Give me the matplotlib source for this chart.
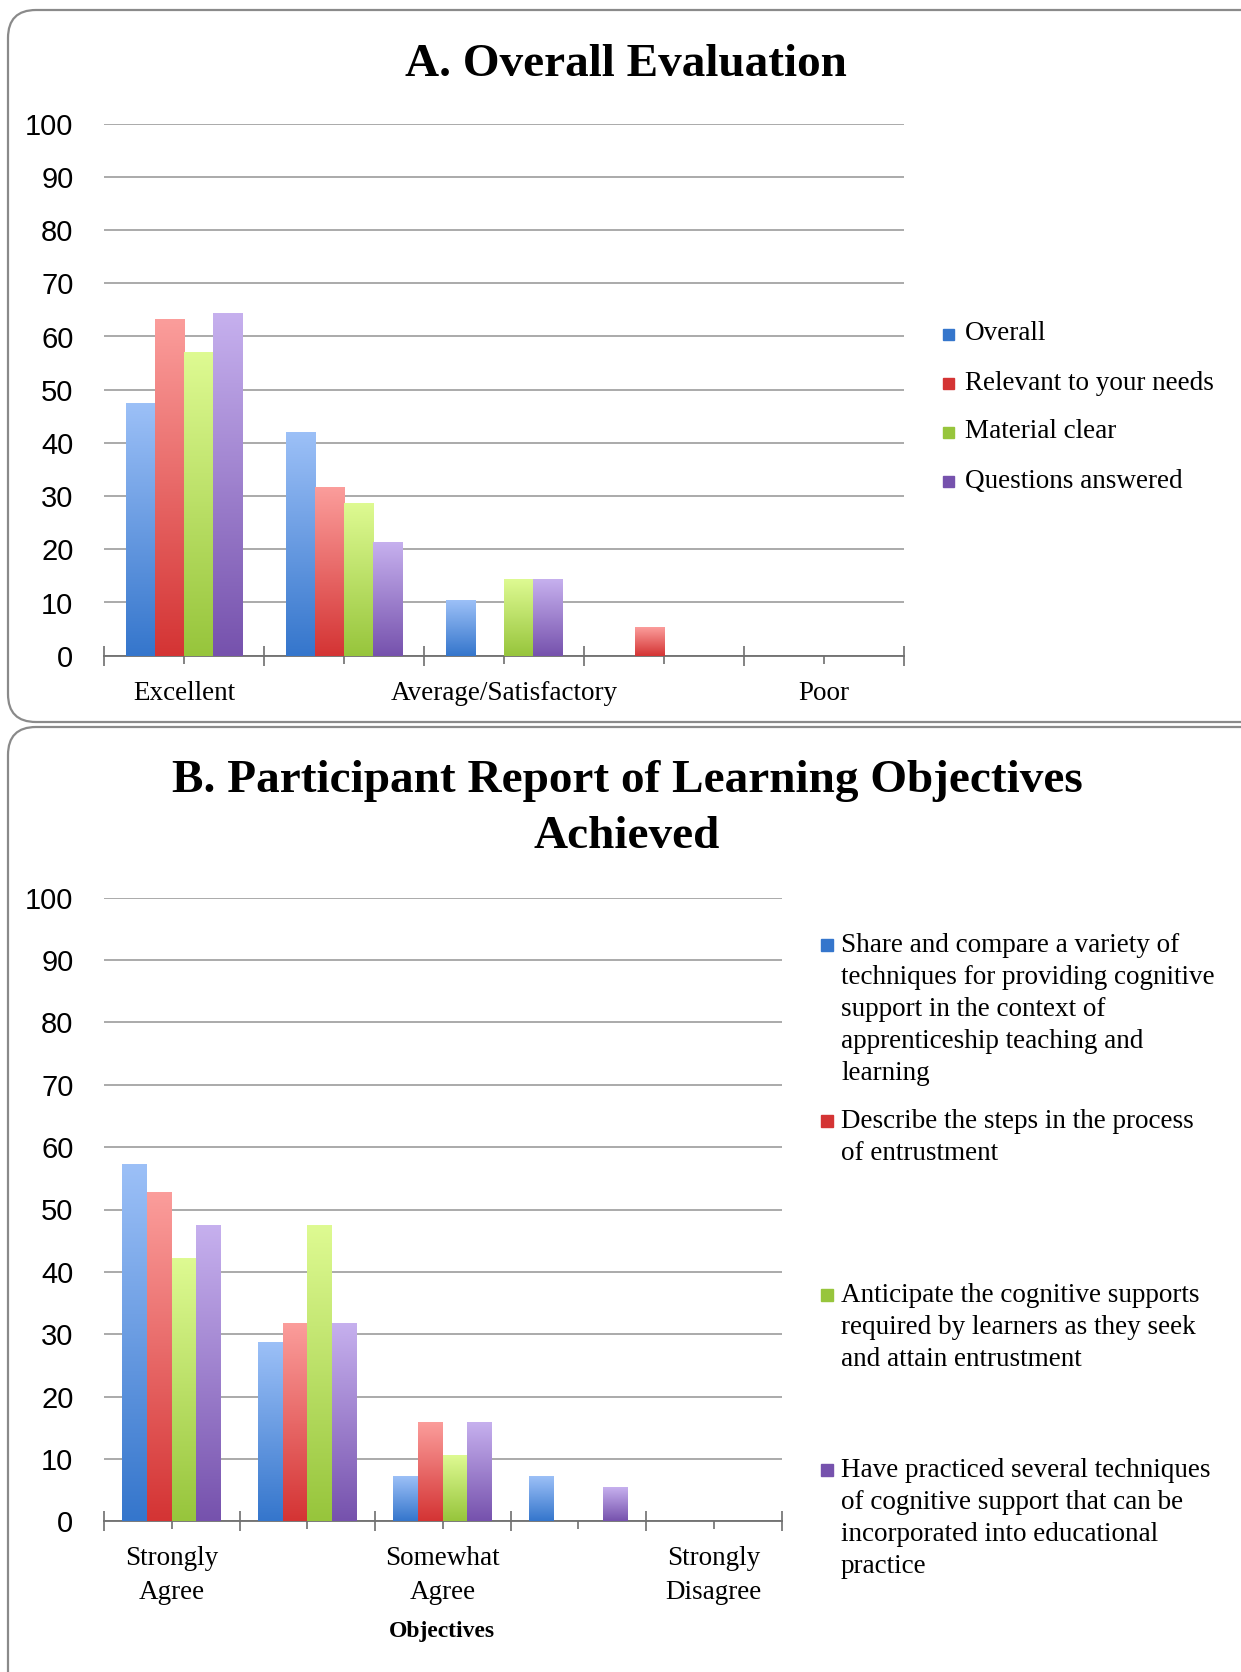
import numpy as np
import matplotlib
matplotlib.use("Agg")
import matplotlib.pyplot as plt
from matplotlib.colors import LinearSegmentedColormap
from matplotlib.patches import FancyBboxPatch, Rectangle
from matplotlib.transforms import IdentityTransform

W, H = 1241, 1672

# Panel A data (percent of respondents)
eval_cats = ['Excellent', '', 'Average/Satisfactory', '', 'Poor']
eval_names = ['Overall', 'Relevant to your needs', 'Material clear', 'Questions answered']
overall = [47.4, 42.1, 10.5, 0, 0]
relevant = [63.2, 31.6, 0, 5.3, 0]
material = [57.1, 28.6, 14.3, 0, 0]
questions = [64.3, 21.4, 14.3, 0, 0]

# Panel B data
obj_cats = ['Strongly\nAgree', '', 'Somewhat\nAgree', '', 'Strongly\nDisagree']
obj_names = ['Share and compare a variety of\ntechniques for providing cognitive\nsupport in the context of\napprenticeship teaching and\nlearning',
             'Describe the steps in the process\nof entrustment',
             'Anticipate the cognitive supports\nrequired by learners as they seek\nand attain entrustment',
             'Have practiced several techniques\nof cognitive support that can be\nincorporated into educational\npractice']
share = [57.1, 28.6, 7.1, 7.1, 0]
describe = [52.6, 31.6, 15.8, 0, 0]
anticipate = [42.1, 47.4, 10.5, 0, 0]
practiced = [47.4, 31.6, 15.8, 5.3, 0]

# (top, bottom) colours of the excel-style gradient
shades = [('#9cc0f7', '#3576cc'),
          ('#fb9d9b', '#d43434'),
          ('#defa92', '#97c53c'),
          ('#c6b0ee', '#7652ad')]

serif = 'Liberation Serif'
narrow = ['Liberation Sans Narrow', 'Liberation Sans']

fig = plt.figure(figsize=(W / 100, H / 100), dpi=100)

# rounded panel frames
for (top, bottom) in [(10, 722), (727, 1700)]:
    box = FancyBboxPatch((8, H - bottom), W + 40, bottom - top,
                         boxstyle='round,pad=0,rounding_size=28',
                         transform=IdentityTransform(), facecolor='none',
                         edgecolor='#8a8a8a', linewidth=1.6, zorder=-5)
    fig.add_artist(box)


def px_axes(left, top, right, bottom):
    return fig.add_axes([left / W, 1 - bottom / H, (right - left) / W, (bottom - top) / H])


def draw_panel(ax, cats, series):
    x = np.arange(len(cats))
    w = 0.73 / 4
    grad = np.linspace(0, 1, 128).reshape(-1, 1)
    for i, vals in enumerate(series):
        ctop, cbot = shades[i]
        cmap = LinearSegmentedColormap.from_list('g%d' % i, [cbot, ctop])
        bars = ax.bar(x + (i - 1.5) * w, vals, w, color=cbot, linewidth=0, zorder=3)
        for b in bars:
            if b.get_height() <= 0:
                b.set_visible(False)
                continue
            bx, by = b.get_xy()
            ax.imshow(grad, extent=(bx, bx + b.get_width(), by, by + b.get_height()),
                      origin='lower', cmap=cmap, aspect='auto', zorder=3.1,
                      interpolation='bilinear')
    ax.set_xlim(-0.5, len(cats) - 0.5)
    ax.set_ylim(0, 100)
    ax.set_yticks(range(0, 101, 10))
    ax.yaxis.grid(True, color='#9c9c9c', linewidth=1.2)
    ax.set_axisbelow(True)
    for s in ['top', 'right', 'left']:
        ax.spines[s].set_visible(False)
    ax.spines['bottom'].set_color('#6e6e6e')
    ax.spines['bottom'].set_linewidth(1.3)
    ax.set_xticks(x, cats)
    ax.set_xticks(np.arange(-0.5, len(cats)), minor=True)
    ax.tick_params(axis='x', which='major', direction='out', length=6, width=1.2,
                   color='#6e6e6e', pad=12)
    ax.tick_params(axis='x', which='minor', direction='inout', length=14, width=1.2,
                   color='#6e6e6e')
    ax.tick_params(axis='y', length=0, pad=22)
    for t in ax.get_xticklabels():
        t.set_fontfamily(serif)
        t.set_fontsize(19.5)
        t.set_linespacing(1.45)
    for t in ax.get_yticklabels():
        t.set_fontfamily(narrow)
        t.set_fontsize(21)
    ax.patch.set_alpha(0)


axA = px_axes(104, 123.7, 904, 655.7)
draw_panel(axA, eval_cats, [overall, relevant, material, questions])

axB = px_axes(104, 897.6, 781.5, 1521.4)
draw_panel(axB, obj_cats, [share, describe, anticipate, practiced])

# titles
fig.text(626 / W, 1 - 65 / H, 'A. Overall Evaluation', ha='center', va='center',
         fontfamily=serif, fontweight='bold', fontsize=34)
fig.text(627 / W, 1 - 809 / H, 'B. Participant Report of Learning Objectives\nAchieved',
         ha='center', va='center', fontfamily=serif, fontweight='bold', fontsize=34,
         linespacing=1.45)
fig.text(442 / W, 1 - 1631 / H, 'Objectives', ha='center', va='center',
         fontfamily=serif, fontweight='bold', fontsize=17)

# legend A
for i, (name, yc) in enumerate(zip(eval_names, [334, 383, 432, 481])):
    fig.add_artist(Rectangle((943, H - yc - 6), 11, 11, transform=IdentityTransform(),
                             color=shades[i][1]))
    fig.text(965 / W, 1 - yc / H, name, ha='left', va='center',
             fontfamily=serif, fontsize=19.5)

# legend B
for i, (name, yc) in enumerate(zip(obj_names, [944.6, 1120.6, 1295.4, 1470.3])):
    fig.add_artist(Rectangle((821, H - yc - 6), 12, 12, transform=IdentityTransform(),
                             color=shades[i][1]))
    fig.text(841 / W, 1 - (yc - 12) / H, name, ha='left', va='top',
             fontfamily=serif, fontsize=19.5, linespacing=1.37)

fig.savefig('out.png', dpi=100, facecolor='white')
